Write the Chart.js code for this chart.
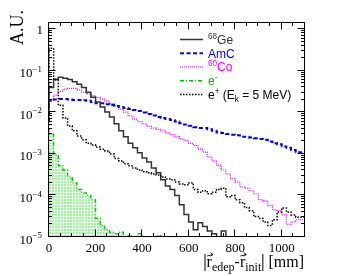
<!DOCTYPE html>
<html>
<head>
<meta charset="utf-8">
<script src="https://cdn.jsdelivr.net/npm/chart.js@4.4.1/dist/chart.umd.min.js"></script>
<style>
  html, body { margin: 0; padding: 0; background: #fff; }
</style>
</head>
<body>
<canvas id="distChart" width="349" height="276"></canvas>
<script>
// histogram bins of 20 mm, starting at 0 mm
const binWidth = 20;
const xMax = 1100;
const yMin = 1e-5;
const yMax = 1.5;
const xTicks = [0, 200, 400, 600, 800, 1000];
const yTickExps = [0, -1, -2, -3, -4, -5];

const ge68 = [0.01, 0.04, 0.063, 0.07, 0.066, 0.0615, 0.0545, 0.0475, 0.0395, 0.0307,
  0.0233, 0.0177, 0.0134, 0.0102, 0.0077, 0.0053, 0.0036, 0.0026, 0.0018, 0.0014,
  0.00106, 0.0008, 0.00064, 0.00046, 0.00035, 0.00024, 0.00017, 0.00014, 0.0001, 0.00006,
  0.000035, 0.000023, 0.000015, 0.000022, 0.000018, 0.000014, 0.000012, 0, 0.000014, 0,
  0, 0, 0, 0, 0, 0, 0, 0, 0, 0, 0, 0, 0, 0, 0];
const amc = [0.006, 0.019, 0.0205, 0.021, 0.021, 0.0205, 0.02, 0.02, 0.0195, 0.019,
  0.0177, 0.0167, 0.0167, 0.0158, 0.015, 0.0142, 0.0134, 0.0127, 0.012, 0.0114,
  0.0108, 0.0099, 0.0091, 0.0084, 0.0077, 0.0073, 0.0069, 0.0066, 0.006, 0.0055,
  0.0051, 0.0048, 0.0044, 0.0042, 0.0042, 0.0039, 0.0036, 0.0033, 0.0032, 0.003,
  0.0029, 0.0028, 0.0026, 0.0026, 0.0025, 0.0024, 0.0023, 0.0022, 0.002, 0.0018,
  0.0017, 0.0015, 0.0014, 0.00125, 0.0011];
const co60 = [0.01, 0.0197, 0.026, 0.0322, 0.0362, 0.038, 0.038, 0.0343, 0.0307, 0.0275,
  0.0253, 0.0226, 0.0209, 0.0187, 0.0163, 0.0142, 0.012, 0.0102, 0.0082, 0.0069,
  0.006, 0.0053, 0.0046, 0.0042, 0.0039, 0.0036, 0.0032, 0.0029, 0.0026, 0.0023,
  0.0021, 0.0018, 0.0016, 0.0013, 0.0011, 0.00085, 0.00068, 0.00054, 0.00041, 0.00033,
  0.00025, 0.00021, 0.00016, 0.00015, 0.00013, 0.00011, 0.000079, 0.000074, 0.000057, 0.000045,
  0.000043, 0.000034, 0.00002, 0.000023, 0.000026];
const eMinus = [1.0, 0.003, 0.00095, 0.00053, 0.00041, 0.00028, 0.0002, 0.00014, 0.000116, 0.0001,
  0.000079, 0.000028, 0.000019, 0.000015, 0.000013, 0.000012, 0.000013, 0, 0.000011, 0,
  0.000012, 0, 0, 0, 0.000011, 0, 0, 0, 0, 0,
  0, 0, 0, 0, 0, 0, 0, 0, 0, 0, 0, 0, 0, 0, 0, 0, 0, 0, 0, 0, 0, 0, 0, 0, 0];
const ePlus = [0.12, 0.35, 0.06, 0.0148, 0.0073, 0.0047, 0.0036, 0.0027, 0.0022, 0.0018,
  0.00164, 0.00147, 0.0013, 0.00118, 0.001, 0.00078, 0.00068, 0.00058, 0.00052, 0.00046,
  0.00041, 0.00037, 0.00035, 0.00033, 0.00031, 0.00028, 0.00025, 0.00024, 0.00021, 0.00019,
  0.00018, 0.0002, 0.00014, 0.00012, 0.00013, 0.00011, 0.00012, 0.00014, 0.00015, 0.000093,
  0.0001, 0.000079, 0.000067, 0.000051, 0.000043, 0.000031, 0.000028, 0.000023, 0.000019, 0.000026,
  0.00004, 0.00005, 0.00004, 0.000034, 0.00003];

const seriesLabels = ['^{68}Ge', 'AmC', '^{60}Co', 'e^{-}', 'e^{+} (E_{k} = 5 MeV)'];
const seriesData = [ge68, amc, co60, eMinus, ePlus];
const seriesStyle = [
  { color: '#333333', width: 1.5, dash: [] },
  { color: '#0000ff', width: 2, dash: [4, 2.5] },
  { color: '#ff00ff', width: 1.2, dash: [1, 1] },
  { color: '#00c000', width: 1.3, dash: [4, 2, 1, 2] },
  { color: '#000000', width: 1.5, dash: [1.5, 1.5] }
];
const drawOrder = [2, 3, 4, 5, 1];

// light green hatch for the e- histogram
const pat = document.createElement('canvas');
pat.width = 3; pat.height = 3;
const pctx = pat.getContext('2d');
pctx.fillStyle = '#a8eca8';
pctx.fillRect(0, 0, 3, 3);
pctx.fillStyle = '#e4fae4';
pctx.fillRect(0, 0, 3, 1);
pctx.fillRect(0, 0, 1, 3);

function toSteps(vals) {
  const pts = vals.map((v, i) => ({ x: i * binWidth, y: Math.max(v, yMin) }));
  pts.push({ x: vals.length * binWidth, y: Math.max(vals[vals.length - 1], yMin) });
  return pts;
}

// tiny text renderer: ^{..} superscript, _{..} subscript
function richText(ctx, str, x, y, size, family, draw) {
  let cx = x, i = 0;
  while (i < str.length) {
    const c = str[i];
    if ((c === '^' || c === '_') && str[i + 1] === '{') {
      const end = str.indexOf('}', i);
      const t = str.slice(i + 2, end);
      const s = size * 0.68;
      ctx.font = s + 'px ' + family;
      const dy = c === '^' ? -size * 0.42 : size * 0.3;
      if (draw) ctx.fillText(t, cx, y + dy);
      cx += ctx.measureText(t).width;
      i = end + 1;
    } else {
      let j = i;
      while (j < str.length && !((str[j] === '^' || str[j] === '_') && str[j + 1] === '{')) j++;
      const t = str.slice(i, j);
      ctx.font = size + 'px ' + family;
      if (draw) ctx.fillText(t, cx, y);
      cx += ctx.measureText(t).width;
      i = j;
    }
  }
  return cx - x;
}

const rootFrame = {
  id: 'rootFrame',
  afterDatasetsDraw(chart) {
    const ctx = chart.ctx;
    const a = chart.chartArea;
    const xs = chart.scales.x, ys = chart.scales.y;
    const serif = '"Liberation Serif", "Times New Roman", serif';
    const sans = '"Liberation Sans", Arial, sans-serif';
    ctx.save();
    ctx.strokeStyle = '#000';
    ctx.lineWidth = 1;
    ctx.setLineDash([]);
    const L = a.left - 0.5, R = a.right - 0.5, T = a.top + 0.5, B = a.bottom - 0.5;
    ctx.strokeRect(L, T, R - L, B - T);

    // x ticks, bottom and top
    ctx.beginPath();
    for (let v = 0; v <= xMax; v += 50) {
      const px = Math.round(xs.getPixelForValue(v)) - 0.5;
      const len = v % 200 === 0 ? 7 : 3.5;
      ctx.moveTo(px, B); ctx.lineTo(px, B - len);
      ctx.moveTo(px, T); ctx.lineTo(px, T + len);
    }
    // y ticks, left and right
    for (let k = -5; k <= 0; k++) {
      for (let m = 1; m <= 9; m++) {
        const v = m * Math.pow(10, k);
        if (v > yMax) break;
        const py = Math.round(ys.getPixelForValue(v)) - 0.5;
        const len = m === 1 ? 7 : 3.5;
        ctx.moveTo(L, py); ctx.lineTo(L + len, py);
        ctx.moveTo(R, py); ctx.lineTo(R - len, py);
      }
    }
    ctx.stroke();

    // tick labels
    ctx.fillStyle = '#000';
    ctx.font = '13px ' + serif;
    ctx.textAlign = 'center';
    ctx.textBaseline = 'alphabetic';
    xTicks.forEach(v => ctx.fillText(String(v), xs.getPixelForValue(v), a.bottom + 15));
    ctx.textAlign = 'left';
    yTickExps.forEach(k => {
      const py = ys.getPixelForValue(Math.pow(10, k));
      const str = k === 0 ? '1' : '10^{\u2212' + (-k) + '}';
      const w = richText(ctx, str, 0, 0, 13, serif, false);
      richText(ctx, str, (k === 0 ? 43 : 42) - w, py + 4.5 + (k === 0 ? 0 : 2), 13, serif, true);
    });

    // y title
    ctx.save();
    ctx.translate(23, 10);
    ctx.rotate(-Math.PI / 2);
    ctx.font = '18px ' + serif;
    ctx.textAlign = 'right';
    ctx.fillText('A.U.', 0, 0);
    ctx.restore();

    // x title |r_edep - r_init| [mm]
    const base = 267;
    const parts = [
      ['|', 16, 0], ['r', 16, 0, true], ['edep', 12, 4], ['-', 16, 0],
      ['r', 16, 0, true], ['init', 12, 4], ['|', 16, 0], [' [mm]', 16, 0]
    ];
    ctx.textAlign = 'left';
    let total = 0;
    parts.forEach(p => { ctx.font = p[1] + 'px ' + serif; total += ctx.measureText(p[0]).width; });
    let cx = 304 - total;
    parts.forEach(p => {
      ctx.font = p[1] + 'px ' + serif;
      const w = ctx.measureText(p[0]).width;
      if (p[0] === '|') {
        ctx.beginPath();
        ctx.moveTo(cx + w / 2, base - 13); ctx.lineTo(cx + w / 2, base + 4);
        ctx.lineWidth = 1; ctx.stroke();
      } else {
        ctx.fillText(p[0], cx, base + p[2]);
      }
      if (p[3]) {
        ctx.beginPath();
        ctx.lineWidth = 0.9;
        ctx.moveTo(cx + 0.5, base - 11); ctx.lineTo(cx + w + 1, base - 12.5);
        ctx.moveTo(cx + w - 1.5, base - 14.5); ctx.lineTo(cx + w + 1, base - 12.5); ctx.lineTo(cx + w - 1.5, base - 10.8);
        ctx.stroke();
      }
      cx += w;
    });

    // legend
    seriesLabels.forEach((lab, i) => {
      const st = seriesStyle[i];
      const cy = 39.5 + i * 13.75;
      ctx.beginPath();
      ctx.strokeStyle = st.color;
      ctx.lineWidth = st.width;
      ctx.setLineDash(st.dash);
      ctx.moveTo(180, cy); ctx.lineTo(203, cy);
      ctx.stroke();
      ctx.setLineDash([]);
      ctx.fillStyle = st.color;
      richText(ctx, lab, 208, cy + 4.3, 12, sans, true);
    });
    ctx.restore();
  }
};

const datasets = seriesData.map((vals, i) => ({
  label: seriesLabels[i],
  data: toSteps(vals),
  stepped: 'after',
  borderColor: seriesStyle[i].color,
  borderWidth: seriesStyle[i].width,
  borderDash: seriesStyle[i].dash,
  pointRadius: 0,
  fill: vals === eMinus ? 'start' : false,
  backgroundColor: vals === eMinus ? document.getElementById('distChart').getContext('2d').createPattern(pat, 'repeat') : 'transparent',
  order: drawOrder[i],
  clip: 0
}));

new Chart(document.getElementById('distChart'), {
  type: 'line',
  data: { datasets },
  options: {
    responsive: false,
    animation: false,
    devicePixelRatio: 1,
    layout: { padding: { left: 49, top: 22, right: 44, bottom: 39 } },
    plugins: { legend: { display: false }, tooltip: { enabled: false } },
    scales: {
      x: { type: 'linear', min: 0, max: xMax, display: false },
      y: { type: 'logarithmic', min: yMin, max: yMax, display: false }
    }
  },
  plugins: [rootFrame]
});
</script>
</body>
</html>
